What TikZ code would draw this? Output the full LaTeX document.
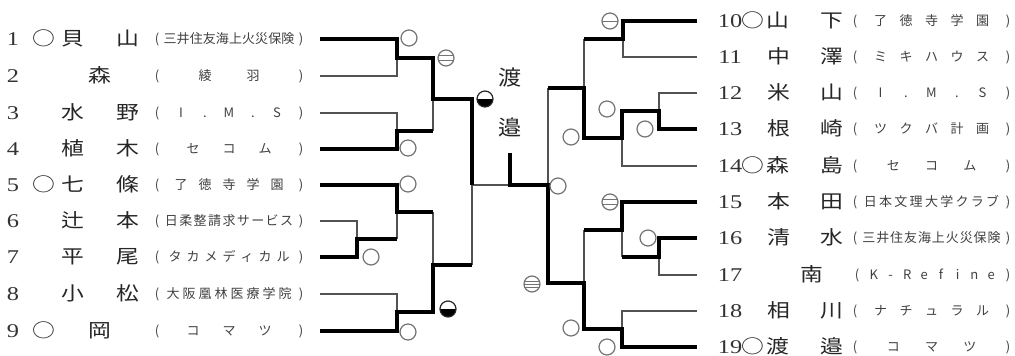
\documentclass[tikz,border=0pt]{standalone}
\usepackage{fontspec}
\setmainfont{Liberation Serif}
\newfontfamily\cjk{Noto Sans CJK JP}
\newcommand{\wide}[1]{\scalebox{1.2}[1]{#1}}
\newcommand{\widenum}[1]{\scalebox{1.25}[1]{#1}}
\newcommand{\LP}{(}
\newcommand{\RP}{)}
\tikzset{
  lose/.style={line width=1.2pt, draw=black!68},
  win/.style={line width=3.2pt, draw=black, line join=miter},
  num/.style={anchor=base, yshift=-6.6pt, inner sep=0pt, font=\fontsize{19.5}{19.5}\selectfont, text=black!80},
  nm/.style={anchor=base, yshift=-6.8pt, inner sep=0pt, font=\cjk\fontsize{19}{19}\selectfont, text=black!85},
  ctr/.style={anchor=base, yshift=-7.5pt, inner sep=0pt, font=\cjk\fontsize{21}{21}\selectfont, text=black!85},
  team/.style={anchor=base, inner sep=0pt, text=black!75},
  mk/.style={circle, draw=black!55, line width=1.2pt, minimum size=16pt, inner sep=0pt, fill=white},
  mkone/.style={mk, path picture={\draw[black!55, line width=1pt] (path picture bounding box.west) -- (path picture bounding box.east);}},
  mktwo/.style={mk, path picture={\draw[black!55, line width=1pt] ([yshift=2.2pt]path picture bounding box.west) -- ([yshift=2.2pt]path picture bounding box.east) ([yshift=-2.2pt]path picture bounding box.west) -- ([yshift=-2.2pt]path picture bounding box.east);}},
  mkthree/.style={mk, path picture={\draw[black!55, line width=1pt] ([yshift=3pt]path picture bounding box.west) -- ([yshift=3pt]path picture bounding box.east) (path picture bounding box.west) -- (path picture bounding box.east) ([yshift=-3pt]path picture bounding box.west) -- ([yshift=-3pt]path picture bounding box.east);}},
  mkhalf/.style={mk, draw=black!85, path picture={\fill[black] (path picture bounding box.west) rectangle (path picture bounding box.south east);}},
}
% #1 prefix, #2 x0, #3 x1, #4 y, #5 slots, #6 font size, #7 list
\newcommand{\spreadtext}[7]{%
  \foreach \tch [count=\tk] in {#7} {%
    \if\relax\detokenize\expandafter{\tch}\relax\else
      \node[team, font=\cjk\fontsize{#6}{#6}\selectfont, yshift=-#6*0.37pt] (#1-\tk) at ({#2+(\tk-1)*(#3-#2)/(#5-1)}, #4) {\tch};
    \fi}}
\begin{document}
\begin{tikzpicture}[x=1pt,y=-1pt]
\useasboundingbox (0,0) rectangle (1015,356);
% ---------- left names ----------
\node[num] (n1) at (13,39) {\widenum{1}}; \node[nm] (o1) at (44,39) {\wide{○}}; \node[nm] (p1a) at (73,39) {\wide{貝}}; \node[nm] (p1b) at (128,39) {\wide{山}};
\node[num] (n2) at (13,76) {\widenum{2}}; \node[nm] (p2a) at (100,76) {\wide{森}};
\node[num] (n3) at (13,113) {\widenum{3}}; \node[nm] (p3a) at (73,113) {\wide{水}}; \node[nm] (p3b) at (128,113) {\wide{野}};
\node[num] (n4) at (13,149) {\widenum{4}}; \node[nm] (p4a) at (73,149) {\wide{植}}; \node[nm] (p4b) at (128,149) {\wide{木}};
\node[num] (n5) at (13,185) {\widenum{5}}; \node[nm] (o5) at (44,185) {\wide{○}}; \node[nm] (p5a) at (73,185) {\wide{七}}; \node[nm] (p5b) at (128,185) {\wide{條}};
\node[num] (n6) at (13,221) {\widenum{6}}; \node[nm] (p6a) at (73,221) {\wide{辻}}; \node[nm] (p6b) at (128,221) {\wide{本}};
\node[num] (n7) at (13,257) {\widenum{7}}; \node[nm] (p7a) at (73,257) {\wide{平}}; \node[nm] (p7b) at (128,257) {\wide{尾}};
\node[num] (n8) at (13,294) {\widenum{8}}; \node[nm] (p8a) at (73,294) {\wide{小}}; \node[nm] (p8b) at (128,294) {\wide{松}};
\node[num] (n9) at (13,331) {\widenum{9}}; \node[nm] (o9) at (44,331) {\wide{○}}; \node[nm] (p9a) at (100,331) {\wide{岡}};
% ---------- left teams ----------
\spreadtext{t1}{157}{301}{39}{12}{13}{\LP,三,井,住,友,海,上,火,災,保,険,\RP}
\spreadtext{t2}{157}{301}{76}{7}{13}{\LP,,綾,,羽,,\RP}
\spreadtext{t3}{157}{301}{113}{7}{13}{\LP,I,.,M,.,S,\RP}
\spreadtext{t4}{157}{301}{149}{5}{13}{\LP,セ,コ,ム,\RP}
\spreadtext{t5}{157}{301}{185}{7}{13}{\LP,了,徳,寺,学,園,\RP}
\spreadtext{t6}{157}{301}{221}{11}{13}{\LP,日,柔,整,請,求,サ,ー,ビ,ス,\RP}
\spreadtext{t7}{157}{301}{257}{9}{13}{\LP,タ,カ,メ,デ,ィ,カ,ル,\RP}
\spreadtext{t8}{157}{301}{294}{10}{13}{\LP,大,阪,凰,林,医,療,学,院,\RP}
\spreadtext{t9}{157}{301}{331}{5}{13}{\LP,コ,マ,ツ,\RP}
% ---------- right names ----------
\node[num] (n10) at (730,21) {\widenum{10}}; \node[nm] (o10) at (753,21) {\wide{○}}; \node[nm] (p10a) at (778,21) {\wide{山}}; \node[nm] (p10b) at (832,21) {\wide{下}};
\node[num] (n11) at (730,57) {\widenum{11}}; \node[nm] (p11a) at (779,57) {\wide{中}}; \node[nm] (p11b) at (832,57) {\wide{澤}};
\node[num] (n12) at (730,93) {\widenum{12}}; \node[nm] (p12a) at (779,93) {\wide{米}}; \node[nm] (p12b) at (832,93) {\wide{山}};
\node[num] (n13) at (730,129) {\widenum{13}}; \node[nm] (p13a) at (779,129) {\wide{根}}; \node[nm] (p13b) at (832,129) {\wide{崎}};
\node[num] (n14) at (730,166) {\widenum{14}}; \node[nm] (o14) at (753,166) {\wide{○}}; \node[nm] (p14a) at (778,166) {\wide{森}}; \node[nm] (p14b) at (832,166) {\wide{島}};
\node[num] (n15) at (730,202) {\widenum{15}}; \node[nm] (p15a) at (779,202) {\wide{本}}; \node[nm] (p15b) at (832,202) {\wide{田}};
\node[num] (n16) at (730,238) {\widenum{16}}; \node[nm] (p16a) at (779,238) {\wide{清}}; \node[nm] (p16b) at (832,238) {\wide{水}};
\node[num] (n17) at (730,275) {\widenum{17}}; \node[nm] (p17a) at (812,275) {\wide{南}};
\node[num] (n18) at (730,311) {\widenum{18}}; \node[nm] (p18a) at (779,311) {\wide{相}}; \node[nm] (p18b) at (832,311) {\wide{川}};
\node[num] (n19) at (730,347) {\widenum{19}}; \node[nm] (o19) at (753,347) {\wide{○}}; \node[nm] (p19a) at (778,347) {\wide{渡}}; \node[nm] (p19b) at (832,347) {\wide{邉}};
% ---------- right teams ----------
\spreadtext{t10}{855}{1008}{21}{7}{13}{\LP,了,徳,寺,学,園,\RP}
\spreadtext{t11}{855}{1008}{57}{7}{13}{\LP,ミ,キ,ハ,ウ,ス,\RP}
\spreadtext{t12}{855}{1008}{93}{7}{13}{\LP,I,.,M,.,S,\RP}
\spreadtext{t13}{855}{1008}{129}{7}{13}{\LP,ツ,ク,バ,計,画,\RP}
\spreadtext{t14}{855}{1008}{166}{5}{13}{\LP,セ,コ,ム,\RP}
\spreadtext{t15}{855}{1008}{202}{11}{13}{\LP,日,本,文,理,大,学,ク,ラ,ブ,\RP}
\spreadtext{t16}{855}{1008}{238}{12}{13}{\LP,三,井,住,友,海,上,火,災,保,険,\RP}
\spreadtext{t17}{857}{1008}{275}{10}{13}{\LP,K,-,R,e,f,i,n,e,\RP}
\spreadtext{t18}{855}{1008}{311}{7}{13}{\LP,ナ,チ,ュ,ラ,ル,\RP}
\spreadtext{t19}{855}{1008}{347}{5}{13}{\LP,コ,マ,ツ,\RP}
% ---------- centre ----------
\node[ctr] (w1) at (510,78) {\scalebox{1.1}[1]{渡}};
\node[ctr] (w2) at (510,128) {\scalebox{1.1}[1]{邉}};
% ---------- coordinates ----------
\coordinate (a1) at (320,39); \coordinate (a2) at (320,76); \coordinate (a3) at (320,113);
\coordinate (a4) at (320,149); \coordinate (a5) at (320,185); \coordinate (a6) at (320,221);
\coordinate (a7) at (320,257); \coordinate (a8) at (320,294); \coordinate (a9) at (320,331);
\coordinate (j12) at (397,58); \coordinate (j34) at (397,131); \coordinate (j67) at (357,239);
\coordinate (j567) at (397,212); \coordinate (j89) at (397,312); \coordinate (j14) at (433,99);
\coordinate (j59) at (433,265); \coordinate (jL) at (472,185);
\coordinate (fin) at (510,185); \coordinate (top) at (510,153);
\coordinate (b10) at (697,21); \coordinate (b11) at (697,57); \coordinate (b12) at (697,93);
\coordinate (b13) at (697,129); \coordinate (b14) at (697,166); \coordinate (b15) at (697,202);
\coordinate (b16) at (697,238); \coordinate (b17) at (697,275); \coordinate (b18) at (697,311);
\coordinate (b19) at (697,347);
\coordinate (k1011) at (623,39); \coordinate (k1213) at (659,111); \coordinate (k1314) at (622,138);
\coordinate (k1014) at (584,88); \coordinate (k1617) at (659,257); \coordinate (k1517) at (622,230);
\coordinate (k1819) at (622,329); \coordinate (k1519) at (584,283); \coordinate (kR) at (548,185);
% ---------- losing lines ----------
\draw[lose] (a2) -| (j12);
\draw[lose] (a3) -| (j34);
\draw[lose] (j34 -| j14) -- (j14);
\draw[lose] (j567 -| j59) -- (j59);
\draw[lose] (a6) -| (j67);
\draw[lose] (j67 -| j567) -- (j567);
\draw[lose] (a8) -| (j89);
\draw[lose] (j59 -| jL) -- (jL);
\draw[lose] (jL) -- (fin);
\draw[lose] (k1011 -| k1014) -- (k1014);
\draw[lose] (b11) -| (k1011);
\draw[lose] (b12) -| (k1213);
\draw[lose] (k1014 -| kR) -- (kR);
\draw[lose] (b14) -| (k1314);
\draw[lose] (k1517 -| k1519) -- (k1519);
\draw[lose] (k1617 -| k1517) -- (k1517);
\draw[lose] (b17) -| (k1617);
\draw[lose] (b18) -| (k1819);
% ---------- winning lines ----------
\draw[win] (a1) -| (j12) -| (j14) -| (jL);
\draw[win] (a4) -| (j34) -- (j34 -| j14);
\draw[win] (a5) -| (j567) -- (j567 -| j59);
\draw[win] (a7) -| (j67) -- (j67 -| j567);
\draw[win] (a9) -| (j89) -| (j59) -- (j59 -| jL);
\draw[win] (b10) -| (k1011) -- (k1011 -| k1014);
\draw[win] (b13) -| (k1213) -| (k1314) -| (k1014) -- (k1014 -| kR);
\draw[win] (b15) -| (k1517) -- (k1517 -| k1519);
\draw[win] (b16) -| (k1617) -- (k1617 -| k1517);
\draw[win] (b19) -| (k1819) -| (k1519) -| (kR) -- (fin) -- (top);
% ---------- result marks ----------
\node[mk] (c1) at (409,38) {};
\node[mk] (c4) at (408,148) {};
\node[mktwo] (c14) at (446,58) {};
\node[mkhalf] (c1L) at (485,99) {};
\node[mk] (c5) at (408,184) {};
\node[mk] (c7) at (371,257) {};
\node[mkhalf] (c9b) at (448,309) {};
\node[mk] (c9) at (408,332) {};
\node[mkone] (c10) at (610,21) {};
\node[mk] (c13b) at (607,109) {};
\node[mk] (c13) at (645,129) {};
\node[mk] (c13c) at (571,137) {};
\node[mk] (cF) at (558,186) {};
\node[mktwo] (c15) at (610,202) {};
\node[mk] (c16) at (648,238) {};
\node[mkthree] (c19c) at (532,284) {};
\node[mk] (c19b) at (571,328) {};
\node[mk] (c19) at (607,347) {};
\end{tikzpicture}
\end{document}
